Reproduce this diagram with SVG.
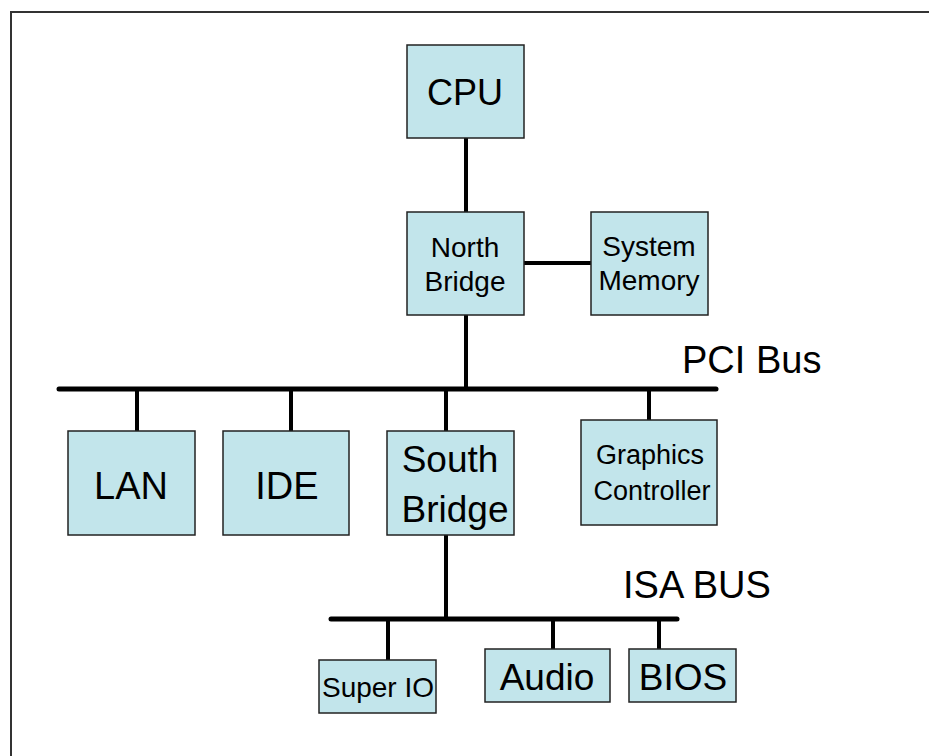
<svg xmlns="http://www.w3.org/2000/svg" width="929" height="756" viewBox="0 0 929 756">
<style>
.box{fill:#C2E5EB;stroke:#222;stroke-width:1.5}
.t{font-family:"Liberation Sans",Arial,sans-serif;fill:#000;text-anchor:middle}
.w{stroke:#000;stroke-width:4;fill:none}
.bus{stroke:#000;stroke-width:5;fill:none;stroke-linecap:round}
</style>
<rect x="0" y="0" width="929" height="756" fill="#fff"/>
<path d="M11,760 V12 H935" fill="none" stroke="#333" stroke-width="2"/>
<g id="connectors">
<line class="w" x1="466" y1="138" x2="466" y2="212"/>
<line class="w" x1="524" y1="263" x2="591" y2="263"/>
<line class="w" x1="466" y1="315" x2="466" y2="389"/>
<line class="bus" x1="59" y1="389" x2="716" y2="389"/>
<line class="w" x1="137" y1="389" x2="137" y2="431"/>
<line class="w" x1="291" y1="389" x2="291" y2="431"/>
<line class="w" x1="446" y1="389" x2="446" y2="431"/>
<line class="w" x1="649" y1="389" x2="649" y2="420"/>
<line class="w" x1="446" y1="535" x2="446" y2="619"/>
<line class="bus" x1="331" y1="619" x2="677" y2="619"/>
<line class="w" x1="388" y1="619" x2="388" y2="660"/>
<line class="w" x1="553" y1="619" x2="553" y2="649"/>
<line class="w" x1="659" y1="619" x2="659" y2="649"/>
</g>
<g id="labels">
<text class="t" x="682" y="373" font-size="38" style="text-anchor:start">PCI Bus</text>
<text class="t" x="623" y="598" font-size="38" style="text-anchor:start">ISA BUS</text>
</g>
<g id="cpu"><rect class="box" x="407" y="45" width="117" height="93"/><text class="t" x="465" y="105" font-size="36">CPU</text></g>
<g id="northbridge"><rect class="box" x="407" y="212" width="117" height="103"/><text class="t" x="465" y="257" font-size="28">North</text><text class="t" x="465" y="291" font-size="28">Bridge</text></g>
<g id="sysmem"><rect class="box" x="591" y="212" width="117" height="103"/><text class="t" x="649" y="256" font-size="28">System</text><text class="t" x="649" y="290" font-size="28">Memory</text></g>
<g id="lan"><rect class="box" x="68" y="431" width="127" height="104"/><text class="t" x="131" y="499" font-size="38">LAN</text></g>
<g id="ide"><rect class="box" x="223" y="431" width="126" height="104"/><text class="t" x="287" y="499" font-size="38">IDE</text></g>
<g id="southbridge"><rect class="box" x="387" y="431" width="127" height="104"/><text class="t" x="450" y="472" font-size="37">South</text><text class="t" x="455" y="522" font-size="37">Bridge</text></g>
<g id="graphics"><rect class="box" x="581" y="420" width="136" height="105"/><text class="t" x="650" y="464" font-size="27">Graphics</text><text class="t" x="652" y="500" font-size="27">Controller</text></g>
<g id="superio"><rect class="box" x="319" y="660" width="117" height="53"/><text class="t" x="378" y="697" font-size="28">Super IO</text></g>
<g id="audio"><rect class="box" x="485" y="649" width="125" height="53"/><text class="t" x="547" y="690" font-size="37">Audio</text></g>
<g id="bios"><rect class="box" x="629" y="649" width="107" height="53"/><text class="t" x="683" y="690" font-size="37">BIOS</text></g>
</svg>
